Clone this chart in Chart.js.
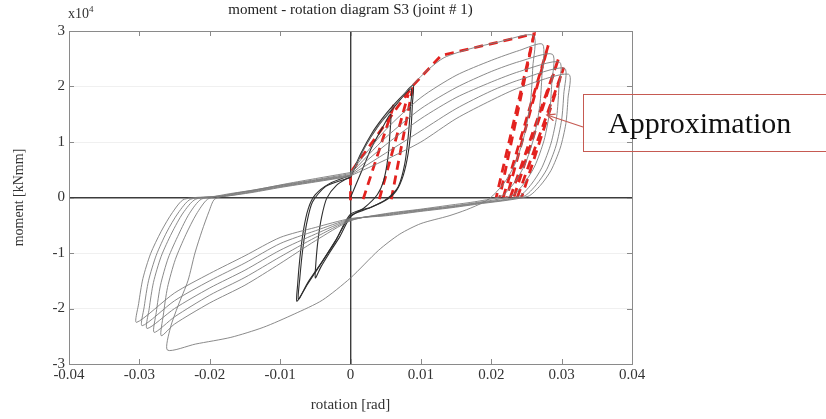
<!DOCTYPE html>
<html>
<head>
<meta charset="utf-8">
<script src="https://cdn.jsdelivr.net/npm/chart.js@4.4.1/dist/chart.umd.min.js"></script>
<style>
  body { margin: 0; background: #fff; overflow: hidden; }
  #wrap { position: relative; width: 826px; height: 419px; }
  #exp { position: absolute; left: 68px; top: 4px; font: 14px "Liberation Serif", serif; color: #333; }
  #exp sup { font-size: 9px; }
  #note {
    position: absolute; left: 583px; top: 94px; width: 250px; height: 58px;
    border: 1.5px solid #c65a52; box-sizing: border-box;
    font: 30px "Liberation Serif", serif; color: #111;
    line-height: 56px; padding-left: 24px;
  }
  #arrow { position: absolute; left: 0; top: 0; }
</style>
</head>
<body>
<div id="wrap">
  <canvas id="chart" width="826" height="419"></canvas>
  <div id="exp">x10<sup>4</sup></div>
  <div id="note">Approximation</div>
  <svg id="arrow" width="826" height="419">
    <defs>
      <marker id="head" markerWidth="10" markerHeight="10" refX="8" refY="4" orient="auto" markerUnits="userSpaceOnUse">
        <path d="M0,0.5 L8,4 L0,7.5" fill="none" stroke="#c65a52" stroke-width="1.3"/>
      </marker>
    </defs>
    <line x1="583" y1="127" x2="547" y2="115" stroke="#c65a52" stroke-width="1.3" marker-end="url(#head)"/>
  </svg>
</div>
<script>
// axis ticks
const xTickValues = [-0.04, -0.03, -0.02, -0.01, 0, 0.01, 0.02, 0.03, 0.04];
const xTickLabels = ['-0.04', '-0.03', '-0.02', '-0.01', '0', '0.01', '0.02', '0.03', '0.04'];
const yTickValues = [-3, -2, -1, 0, 1, 2, 3];
const yTickLabels = ['-3', '-2', '-1', '0', '1', '2', '3'];

// measured loops, [rotation rad, moment x1e4 kNmm]
const smallLoop1 = [
  [0, 0], [0.0015, 0.45], [0.003, 0.9], [0.0045, 1.25], [0.0057, 1.5],
  [0.0056, 1.15], [0.0053, 0.7], [0.0047, 0.3], [0.0038, 0.05], [0.002, -0.18], [0, -0.35],
  [-0.0015, -0.7], [-0.003, -1.0], [-0.0042, -1.25], [-0.005, -1.45],
  [-0.0049, -1.15], [-0.0046, -0.75], [-0.0041, -0.35], [-0.0034, -0.02], [-0.002, 0.22], [0, 0.38]
];
const smallLoop2 = [
  [0, 0.38], [0.0015, 0.8], [0.003, 1.15], [0.0045, 1.42], [0.006, 1.65], [0.0075, 1.85], [0.0089, 2.02],
  [0.0088, 1.7], [0.0086, 1.25], [0.0082, 0.8], [0.0075, 0.4], [0.0065, 0.12], [0.005, -0.05], [0.0025, -0.2], [0, -0.33],
  [-0.002, -0.75], [-0.004, -1.15], [-0.006, -1.52], [-0.0076, -1.87],
  [-0.0075, -1.55], [-0.0072, -1.1], [-0.0067, -0.6], [-0.006, -0.2], [-0.005, 0.05], [-0.003, 0.25], [0, 0.4]
];
const smallLoop3 = [
  [0, 0.36], [0.002, 0.9], [0.004, 1.3], [0.006, 1.6], [0.0086, 1.96],
  [0.0085, 1.6], [0.0082, 1.1], [0.0077, 0.6], [0.0068, 0.2], [0.0052, -0.02], [0.003, -0.17], [0, -0.3],
  [-0.0022, -0.8], [-0.0045, -1.25], [-0.0062, -1.58], [-0.0074, -1.83],
  [-0.0072, -1.45], [-0.0068, -0.95], [-0.0062, -0.45], [-0.0054, -0.08], [-0.0035, 0.2], [0, 0.36]
];
const bigCycle1 = [
  [0, 0.4], [0.003, 1.12], [0.006, 1.62], [0.0089, 2.04], [0.011, 2.3], [0.0133, 2.52], [0.017, 2.68], [0.021, 2.8], [0.026, 2.92],
  [0.0259, 2.35], [0.0256, 1.75], [0.0248, 1.17], [0.0235, 0.64], [0.022, 0.29], [0.0202, 0.03],
  [0.019, -0.08], [0.0165, -0.22], [0.014, -0.33], [0.01, -0.47], [0.007, -0.66], [0.004, -0.95], [0, -1.45],
  [-0.004, -1.85], [-0.008, -2.1], [-0.0124, -2.34], [-0.017, -2.52], [-0.022, -2.64], [-0.026, -2.75],
  [-0.0256, -2.35], [-0.0245, -1.95], [-0.0231, -1.5], [-0.0221, -1.0], [-0.0211, -0.6], [-0.0201, -0.25], [-0.0193, -0.03],
  [-0.017, 0.06], [-0.013, 0.15], [-0.009, 0.25], [-0.005, 0.34], [0, 0.45]
];
const bigCycle2 = [
  [0, 0.45], [0.005, 1.22], [0.01, 1.8], [0.015, 2.2], [0.02, 2.47], [0.024, 2.65], [0.0273, 2.76],
  [0.0272, 2.2], [0.0269, 1.66], [0.0261, 1.1], [0.0248, 0.6], [0.0233, 0.27], [0.0215, 0.03],
  [0.018, -0.07], [0.014, -0.14], [0.01, -0.21], [0.005, -0.29], [0, -0.42],
  [-0.005, -0.78], [-0.01, -1.19], [-0.015, -1.58], [-0.02, -1.9], [-0.025, -2.28], [-0.0269, -2.49],
  [-0.0266, -2.12], [-0.026, -1.62], [-0.0249, -1.12], [-0.0234, -0.67], [-0.0219, -0.3], [-0.0203, -0.03],
  [-0.018, 0.05], [-0.014, 0.13], [-0.01, 0.22], [-0.005, 0.32], [0, 0.43]
];
const bigCycle3 = [
  [0, 0.43], [0.005, 1.08], [0.01, 1.6], [0.015, 1.98], [0.02, 2.27], [0.024, 2.45], [0.0287, 2.58],
  [0.0286, 2.06], [0.0283, 1.55], [0.0275, 1.03], [0.0262, 0.57], [0.0247, 0.26], [0.0229, 0.03],
  [0.018, -0.09], [0.014, -0.16], [0.01, -0.22], [0.005, -0.3], [0, -0.41],
  [-0.005, -0.72], [-0.01, -1.07], [-0.015, -1.44], [-0.02, -1.76], [-0.025, -2.15], [-0.0279, -2.43],
  [-0.0276, -2.07], [-0.027, -1.58], [-0.0259, -1.09], [-0.0244, -0.66], [-0.0229, -0.29], [-0.0212, -0.03],
  [-0.018, 0.04], [-0.014, 0.12], [-0.01, 0.21], [-0.005, 0.31], [0, 0.41]
];
const bigCycle4 = [
  [0, 0.41], [0.005, 0.95], [0.01, 1.42], [0.015, 1.8], [0.02, 2.08], [0.024, 2.27], [0.0297, 2.44],
  [0.0296, 1.95], [0.0293, 1.46], [0.0285, 0.98], [0.0272, 0.54], [0.0257, 0.24], [0.0239, 0.02],
  [0.018, -0.1], [0.014, -0.17], [0.01, -0.23], [0.005, -0.31], [0, -0.4],
  [-0.005, -0.66], [-0.01, -0.95], [-0.015, -1.31], [-0.02, -1.63], [-0.025, -2.0], [-0.0289, -2.36],
  [-0.0286, -2.0], [-0.028, -1.53], [-0.0269, -1.06], [-0.0254, -0.64], [-0.0238, -0.28], [-0.022, -0.03],
  [-0.018, 0.03], [-0.014, 0.11], [-0.01, 0.2], [-0.005, 0.3], [0, 0.4]
];
const bigCycle5 = [
  [0, 0.4], [0.005, 0.8], [0.01, 1.2], [0.015, 1.6], [0.02, 1.92], [0.024, 2.12], [0.0304, 2.33],
  [0.0303, 1.86], [0.03, 1.4], [0.0292, 0.93], [0.0279, 0.51], [0.0264, 0.23], [0.0246, 0.02],
  [0.018, -0.11], [0.014, -0.18], [0.01, -0.24], [0.005, -0.32], [0, -0.39],
  [-0.005, -0.6], [-0.01, -0.83], [-0.015, -1.18], [-0.02, -1.5], [-0.025, -1.86], [-0.0296, -2.31],
  [-0.0293, -1.96], [-0.0287, -1.5], [-0.0276, -1.04], [-0.0261, -0.62], [-0.0245, -0.28], [-0.0227, -0.03],
  [-0.018, 0.02], [-0.014, 0.1], [-0.01, 0.19], [-0.005, 0.29], [0, 0.39]
];
const bigCycle6 = [
  [0, 0.39], [0.005, 0.68], [0.01, 1.0], [0.015, 1.42], [0.02, 1.75], [0.024, 1.98], [0.031, 2.22],
  [0.0309, 1.78], [0.0306, 1.33], [0.0298, 0.89], [0.0285, 0.49], [0.027, 0.22], [0.0252, 0.02],
  [0.018, -0.12], [0.014, -0.19], [0.01, -0.25], [0.005, -0.33], [0, -0.38],
  [-0.005, -0.54], [-0.01, -0.72], [-0.015, -1.05], [-0.02, -1.37], [-0.025, -1.72], [-0.0304, -2.25],
  [-0.0301, -1.91], [-0.0295, -1.46], [-0.0284, -1.01], [-0.0269, -0.61], [-0.0253, -0.27], [-0.0236, -0.03],
  [-0.018, 0.02], [-0.014, 0.09], [-0.01, 0.18], [-0.005, 0.28], [0, 0.38]
];

// red dashed approximation (multilinear model)
const approxEnvelope = [[0, -0.05], [0, 0.45], [0.0089, 2.02], [0.0129, 2.56], [0.0261, 2.95], [0.0207, 0]];
const approxSmall1 = [[0.0018, -0.03], [0.0062, 1.68]];
const approxSmall2 = [[0.0041, -0.03], [0.0082, 1.86]];
const approxSmall3 = [[0.0058, -0.03], [0.0089, 2.02]];
const approxPeakA = [[0.0261, 2.95], [0.0212, 0]];
const approxPeakB = [[0.0217, 0], [0.0281, 2.74], [0.0222, 0]];
const approxPeakC = [[0.0227, 0], [0.0296, 2.52], [0.0232, 0]];
const approxPeakD = [[0.0237, 0], [0.0303, 2.34], [0.0243, 0]];

const toPoints = arr => arr.map(([x, y]) => ({ x, y }));

const gray = (data) => ({
  data: toPoints(data), showLine: true, borderColor: '#7d7d7d', borderWidth: 0.9,
  pointRadius: 0, tension: 0.25, fill: false
});
const dark = (data) => ({
  data: toPoints(data), showLine: true, borderColor: '#2e2e2e', borderWidth: 1.1,
  pointRadius: 0, tension: 0.25, fill: false
});
const red = (data) => ({
  data: toPoints(data), showLine: true, borderColor: '#e3221f', borderWidth: 2.8,
  borderDash: [9, 6], pointRadius: 0, tension: 0, fill: false
});

const serif = '"Liberation Serif", "Times New Roman", serif';

// box around plot with inward ticks, like the matlab frame
const framePlugin = {
  id: 'frame',
  afterDatasetsDraw(chart) {
    const { ctx, chartArea: a, scales: { x, y } } = chart;
    ctx.save();
    ctx.strokeStyle = '#8a8a8a';
    ctx.lineWidth = 1;
    ctx.strokeRect(a.left + 0.5, a.top + 0.5, a.right - a.left, a.bottom - a.top);
    ctx.beginPath();
    xTickValues.forEach(v => {
      const px = Math.round(x.getPixelForValue(v)) + 0.5;
      ctx.moveTo(px, a.bottom); ctx.lineTo(px, a.bottom - 5);
      ctx.moveTo(px, a.top); ctx.lineTo(px, a.top + 5);
    });
    yTickValues.forEach(v => {
      const py = Math.round(y.getPixelForValue(v)) + 0.5;
      ctx.moveTo(a.left, py); ctx.lineTo(a.left + 5, py);
      ctx.moveTo(a.right, py); ctx.lineTo(a.right - 5, py);
    });
    ctx.stroke();
    ctx.restore();
  }
};

new Chart(document.getElementById('chart'), {
  type: 'scatter',
  data: {
    datasets: [
      gray(bigCycle1), gray(bigCycle2), gray(bigCycle3), gray(bigCycle4), gray(bigCycle5), gray(bigCycle6),
      dark(smallLoop1), dark(smallLoop2), dark(smallLoop3),
      red(approxEnvelope), red(approxSmall1), red(approxSmall2), red(approxSmall3),
      red(approxPeakA), red(approxPeakB), red(approxPeakC), red(approxPeakD)
    ]
  },
  options: {
    responsive: false,
    animation: false,
    layout: { padding: { left: 0, right: 194, top: 0, bottom: 0 } },
    plugins: {
      legend: { display: false },
      tooltip: { enabled: false },
      title: {
        display: true,
        text: 'moment - rotation diagram S3 (joint # 1)',
        fullSize: false,
        color: '#222',
        font: { family: serif, size: 15, weight: 'normal' },
        padding: { top: 1, bottom: 12 }
      }
    },
    scales: {
      x: {
        type: 'linear', min: -0.04, max: 0.04,
        afterBuildTicks: s => { s.ticks = xTickValues.map(v => ({ value: v })); },
        afterFit: s => { s.height = 55; },
        ticks: {
          callback: (v, i) => xTickLabels[i],
          color: '#333', padding: 2, maxRotation: 0,
          font: { family: serif, size: 15 }
        },
        grid: {
          drawTicks: false,
          color: c => (c.tick && c.tick.value === 0) ? '#3c3c3c' : 'rgba(0,0,0,0)',
          lineWidth: c => (c.tick && c.tick.value === 0) ? 1.4 : 0
        },
        border: { display: false },
        title: {
          display: true, text: 'rotation [rad]', color: '#333',
          font: { family: serif, size: 15 }, padding: { top: 0, bottom: 5 }
        }
      },
      y: {
        type: 'linear', min: -3, max: 3,
        afterBuildTicks: s => { s.ticks = yTickValues.map(v => ({ value: v })); },
        afterFit: s => { s.width = 69; },
        ticks: {
          callback: (v, i) => yTickLabels[i],
          color: '#333', padding: 4,
          font: { family: serif, size: 15 }
        },
        grid: {
          drawTicks: false,
          color: c => (c.tick && c.tick.value === 0) ? '#3c3c3c' : 'rgba(0,0,0,0.06)',
          lineWidth: c => (c.tick && c.tick.value === 0) ? 1.4 : 1
        },
        border: { display: false },
        title: {
          display: true, text: 'moment [kNmm]', color: '#333',
          font: { family: serif, size: 14 }, padding: { top: 11, bottom: 0 }
        }
      }
    }
  },
  plugins: [framePlugin]
});
</script>
</body>
</html>
